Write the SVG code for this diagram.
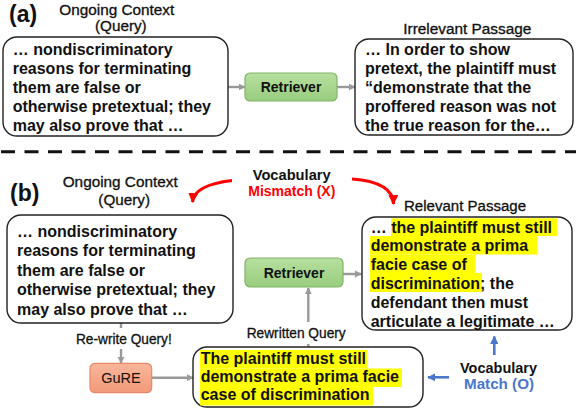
<svg xmlns="http://www.w3.org/2000/svg" width="576" height="410" viewBox="0 0 576 410">
<defs>
<linearGradient id="gGreen" x1="0" y1="0" x2="0" y2="1"><stop offset="0" stop-color="#b7e09f"/><stop offset="1" stop-color="#98cd7e"/></linearGradient>
<linearGradient id="gOrange" x1="0" y1="0" x2="0" y2="1"><stop offset="0" stop-color="#f9b59a"/><stop offset="1" stop-color="#f29a78"/></linearGradient>
<marker id="mGray" viewBox="0 0 10 10" refX="9" refY="5" markerWidth="3" markerHeight="3" orient="auto" markerUnits="strokeWidth"><path d="M0,0 L10,5 L0,10 z" fill="#999"/></marker>
<marker id="mRed" viewBox="0 0 10 10" refX="9" refY="5" markerWidth="3.3" markerHeight="3.3" orient="auto" markerUnits="strokeWidth"><path d="M0,0 L10,5 L0,10 z" fill="#ff0000"/></marker>
<marker id="mBlue" viewBox="0 0 10 10" refX="9" refY="5" markerWidth="3.2" markerHeight="3.2" orient="auto" markerUnits="strokeWidth"><path d="M0,0 L10,5 L0,10 z" fill="#4a76cc"/></marker>
</defs>
<style>
.box{fill:#fff;stroke:#222;stroke-width:1.4}
.body{font-family:"Liberation Sans",Arial,sans-serif;font-weight:bold;font-size:16px;fill:#111}
.lbl{font-family:"Liberation Sans",Arial,sans-serif;font-size:14px;fill:#111;stroke:#111;stroke-width:0.3}
.panel{font-family:"Liberation Sans",Arial,sans-serif;font-weight:bold;font-size:23px;fill:#111}
.voc{font-family:"Liberation Sans",Arial,sans-serif;font-weight:bold;font-size:14px}
.ret{fill:url(#gGreen);stroke:#82b366;stroke-width:1.2}
.rett{font-family:"Liberation Sans",Arial,sans-serif;font-weight:bold;font-size:14px;fill:#111;text-anchor:middle}
.hl{fill:#ffff00}
.ga{fill:none;stroke:#999;stroke-width:2.4}
.ra{fill:none;stroke:#ff0000;stroke-width:3}
.ba{fill:none;stroke:#4a76cc;stroke-width:2.6}
</style>
<rect width="576" height="410" fill="#fff"/>

<text class="panel" x="9" y="22">(a)</text>
<text class="panel" x="10" y="200.5">(b)</text>
<line x1="1" y1="151.7" x2="576" y2="151.7" stroke="#111" stroke-width="3" stroke-dasharray="14 9.5"/>

<g id="labels">
<text class="lbl" x="59.3" y="14.5" textLength="115" lengthAdjust="spacingAndGlyphs">Ongoing Context</text>
<text class="lbl" x="95" y="30.5" textLength="51.7" lengthAdjust="spacingAndGlyphs">(Query)</text>
<text class="lbl" x="403.3" y="34" textLength="128" lengthAdjust="spacingAndGlyphs">Irrelevant Passage</text>
<text class="lbl" x="62.7" y="187.3" textLength="115" lengthAdjust="spacingAndGlyphs">Ongoing Context</text>
<text class="lbl" x="98.3" y="204.5" textLength="51.7" lengthAdjust="spacingAndGlyphs">(Query)</text>
<text class="lbl" x="404" y="211" textLength="122" lengthAdjust="spacingAndGlyphs">Relevant Passage</text>
<text class="voc" x="252.7" y="179.5" fill="#111" textLength="78" lengthAdjust="spacingAndGlyphs">Vocabulary</text>
<text class="voc" x="248.3" y="196" fill="#ff0000" textLength="87" lengthAdjust="spacingAndGlyphs">Mismatch (X)</text>
<text class="voc" x="460" y="372.7" fill="#111" textLength="77" lengthAdjust="spacingAndGlyphs">Vocabulary</text>
<text class="voc" x="464" y="389.3" fill="#4a76cc" textLength="70" lengthAdjust="spacingAndGlyphs">Match  (O)</text>
<text class="lbl" x="246.7" y="337.5" font-size="13" textLength="99" lengthAdjust="spacingAndGlyphs">Rewritten Query</text>
<text class="lbl" x="76" y="344" font-size="13" textLength="95.7" lengthAdjust="spacingAndGlyphs">Re-write Query!</text>
</g>

<g id="connectors">
<line class="ga" x1="228" y1="87" x2="245" y2="87" marker-end="url(#mGray)"/>
<line class="ga" x1="337" y1="87" x2="355" y2="87" marker-end="url(#mGray)"/>
<line class="ga" x1="343" y1="274" x2="361.5" y2="274" marker-end="url(#mGray)"/>
<line class="ga" x1="308.3" y1="322" x2="308.3" y2="288" marker-end="url(#mGray)"/>
<line class="ga" x1="308.3" y1="344" x2="308.3" y2="347"/>
<line class="ga" x1="121" y1="323" x2="121" y2="328"/>
<line class="ga" x1="121" y1="349" x2="121" y2="363" marker-end="url(#mGray)"/>
<line class="ga" x1="152" y1="377.7" x2="193" y2="377.7" marker-end="url(#mGray)"/>
<path class="ra" d="M232,180.5 Q194,185 192.5,202" marker-end="url(#mRed)"/>
<path class="ra" d="M352,179 Q393,182 393.5,204" marker-end="url(#mRed)"/>
<line class="ba" x1="494.3" y1="355" x2="494.3" y2="336.5" marker-end="url(#mBlue)"/>
<line class="ba" x1="449" y1="377.3" x2="428" y2="377.3" marker-end="url(#mBlue)"/>
</g>

<g id="query-a">
<rect class="box" x="3" y="37" width="225" height="99" rx="14"/>
<text class="body" x="12.7" y="55">… nondiscriminatory</text>
<text class="body" x="12.7" y="73.9">reasons for terminating</text>
<text class="body" x="12.7" y="92.8">them are false or</text>
<text class="body" x="12.7" y="111.7">otherwise pretextual; they</text>
<text class="body" x="12.7" y="130.6">may also prove that …</text>
</g>

<g id="retriever-a">
<rect class="ret" x="245" y="73" width="92" height="28" rx="5"/>
<text class="rett" x="291" y="92.3">Retriever</text>
</g>

<g id="irrelevant-passage">
<rect class="box" x="355" y="39" width="218" height="96" rx="14"/>
<text class="body" x="365" y="55">… In order to show</text>
<text class="body" x="365" y="74">pretext, the plaintiff must</text>
<text class="body" x="365" y="93">“demonstrate that the</text>
<text class="body" x="365" y="112">proffered reason was not</text>
<text class="body" x="365" y="131">the true reason for the…</text>
</g>

<g id="query-b">
<rect class="box" x="7" y="215" width="226" height="108" rx="14"/>
<text class="body" x="17" y="237">… nondiscriminatory</text>
<text class="body" x="17" y="256.4">reasons for terminating</text>
<text class="body" x="17" y="275.8">them are false or</text>
<text class="body" x="17" y="295.2">otherwise pretextual; they</text>
<text class="body" x="17" y="314.6">may also prove that …</text>
</g>

<g id="retriever-b">
<rect class="ret" x="245" y="258" width="98" height="29" rx="5"/>
<text class="rett" x="294" y="278.3" font-size="14.5">Retriever</text>
</g>

<g id="relevant-passage">
<rect class="box" x="362" y="217" width="210" height="113" rx="14"/>
<rect class="hl" x="391" y="218.3" width="166" height="17.7"/>
<rect class="hl" x="370" y="236" width="167" height="18.5"/>
<rect class="hl" x="370" y="254.5" width="105" height="18.5"/>
<rect class="hl" x="370" y="273" width="112" height="19"/>
<text class="body" x="370.7" y="232.5">… the plaintiff must still</text>
<text class="body" x="370.7" y="251.3">demonstrate a prima</text>
<text class="body" x="370.7" y="270.1">facie case of</text>
<text class="body" x="370.7" y="288.9">discrimination; the</text>
<text class="body" x="370.7" y="307.7">defendant then must</text>
<text class="body" x="370.7" y="326.5">articulate a legitimate …</text>
</g>

<g id="gure">
<rect x="90" y="363.3" width="61.7" height="29.4" rx="5" fill="url(#gOrange)" stroke="#e5896a" stroke-width="1.2"/>
<text x="121" y="383.3" font-family="Liberation Sans, Arial, sans-serif" font-size="14.5" fill="#111" text-anchor="middle">GuRE</text>
</g>

<g id="rewritten-query">
<rect class="box" x="193" y="347" width="230" height="60" rx="14"/>
<rect class="hl" x="200" y="350" width="167" height="18.5"/>
<rect class="hl" x="200" y="368.5" width="202" height="18.5"/>
<rect class="hl" x="200" y="387" width="173" height="18.5"/>
<text class="body" x="200.7" y="364">The plaintiff must still</text>
<text class="body" x="200.7" y="382">demonstrate a prima facie</text>
<text class="body" x="200.7" y="400">case of discrimination</text>
</g>
</svg>
